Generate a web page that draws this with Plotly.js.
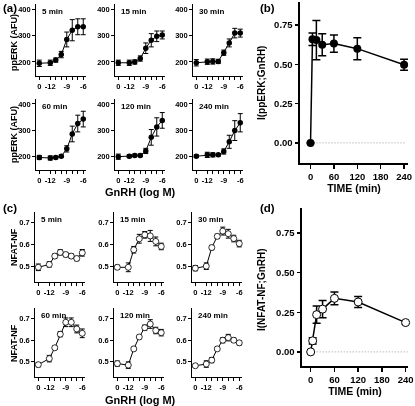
<!DOCTYPE html>
<html><head><meta charset="utf-8">
<script src="https://cdn.plot.ly/plotly-3.0.1.min.js"></script>
<style>html,body{margin:0;padding:0;background:#fff}#chart{width:415px;height:406px;filter:grayscale(100%)}#chart svg text{-webkit-font-smoothing:antialiased}</style>
</head><body><div id="chart"></div>
<script>
// ---- data ----
const doseX = [-14, -12, -11, -10, -9, -8, -7, -6];   // -14 position = control ("0")
const doseTickVals = [-14, -12, -11, -10, -9, -8, -7, -6];
const doseTickText = ['0', '-12', '', '', '-9', '', '', '-6'];
const timeLabels = ['5 min', '15 min', '30 min', '60 min', '120 min', '240 min'];

const erk5   = [195, 197, 207, 228, 285, 320, 333, 333];
const erk5e  = [12, 10, 8, 12, 28, 40, 30, 30];
const erk15  = [197, 197, 200, 213, 252, 282, 297, 302];
const erk15e = [10, 10, 8, 10, 20, 25, 20, 15];
const erk30  = [197, 201, 202, 202, 235, 272, 309, 309];
const erk30e = [12, 10, 10, 8, 10, 15, 18, 15];
const erk60  = [195, 193, 195, 200, 228, 285, 325, 342];
const erk60e = [8, 8, 5, 5, 12, 30, 32, 30];
const erk120  = [198, 200, 203, 203, 220, 272, 312, 337];
const erk120e = [10, 6, 5, 5, 10, 30, 35, 30];
const erk240  = [200, 205, 205, 205, 218, 255, 298, 328];
const erk240e = [5, 10, 8, 5, 10, 25, 38, 35];

const nf5   = [0.497, 0.51, 0.548, 0.565, 0.555, 0.548, 0.537, 0.563];
const nf5e  = [0.015, 0.012, 0.01, 0.012, 0.01, 0.01, 0.01, 0.015];
const nf15  = [0.497, 0.497, 0.577, 0.627, 0.645, 0.64, 0.615, 0.592];
const nf15e = [0.01, 0.02, 0.015, 0.02, 0.015, 0.025, 0.02, 0.015];
const nf30  = [0.493, 0.502, 0.587, 0.638, 0.662, 0.65, 0.628, 0.605];
const nf30e = [0.012, 0.015, 0.01, 0.01, 0.018, 0.02, 0.015, 0.015];
const nf60  = [0.487, 0.515, 0.565, 0.628, 0.683, 0.683, 0.652, 0.632];
const nf60e = [0.01, 0.015, 0.008, 0.012, 0.02, 0.02, 0.018, 0.02];
const nf120  = [0.492, 0.485, 0.56, 0.615, 0.658, 0.675, 0.645, 0.635];
const nf120e = [0.012, 0.015, 0.008, 0.008, 0.012, 0.02, 0.015, 0.015];
const nf240  = [0.482, 0.49, 0.508, 0.56, 0.6, 0.612, 0.6, 0.588];
const nf240e = [0.008, 0.015, 0.012, 0.008, 0.012, 0.015, 0.01, 0.01];

const timeMin = [0, 5, 15, 30, 60, 120, 240];
const infoERK  = [0, 0.66, 0.655, 0.625, 0.632, 0.6, 0.497];
const infoERKe = [0, 0.04, 0.125, 0.07, 0.055, 0.07, 0.035];
const infoNF   = [0, 0.07, 0.235, 0.27, 0.338, 0.315, 0.185];
const infoNFe  = [0, 0.02, 0.055, 0.055, 0.04, 0.035, 0.01];
const infoTicks = [0, 0.25, 0.5, 0.75];
const timeTicks = [0, 60, 120, 180, 240];

// ---- layout helpers ----
const W = 415, H = 406;
const FONT = 'Liberation Sans, Arial, sans-serif';
const BLACK = '#000000';
const dx = (a, b) => [a / W, b / W];
const dy = (top, bot) => [1 - bot / H, 1 - top / H];

const erkSets = [[erk5, erk5e], [erk15, erk15e], [erk30, erk30e], [erk60, erk60e], [erk120, erk120e], [erk240, erk240e]];
const nfSets = [[nf5, nf5e], [nf15, nf15e], [nf30, nf30e], [nf60, nf60e], [nf120, nf120e], [nf240, nf240e]];

const colA = [36, 115, 193];
const colC = [35, 114, 192];
const rowA = [[4, 76], [99, 170]];
const rowC = [[212, 282], [308, 377]];
const smallW = 50;

const data = [];
const layout = {
  width: W, height: H, margin: {l: 0, r: 0, t: 0, b: 0},
  paper_bgcolor: '#fff', plot_bgcolor: 'rgba(0,0,0,0)',
  showlegend: false, font: {family: FONT, color: BLACK},
  annotations: [], shapes: []
};

function smallAxes(n, x0, top, bot, yrange, ytv, yfmt) {
  layout['xaxis' + n] = {
    domain: dx(x0, x0 + smallW), range: [-14.6, -5.5], anchor: 'y' + n,
    color: BLACK, showline: true, linewidth: 1.3, linecolor: BLACK, mirror: false,
    showgrid: false, zeroline: false, ticks: 'outside', ticklen: 2.5, tickwidth: 1, tickcolor: BLACK,
    tickvals: doseTickVals, ticktext: doseTickText,
    tickfont: {family: FONT, size: 7.5, weight: 'bold', color: BLACK}, fixedrange: true
  };
  layout['yaxis' + n] = {
    domain: dy(top, bot), range: yrange, anchor: 'x' + n,
    color: BLACK, showline: true, linewidth: 1.3, linecolor: BLACK,
    showgrid: false, zeroline: false, ticks: 'outside', ticklen: 2.5, tickwidth: 1, tickcolor: BLACK,
    tickvals: ytv, tickformat: yfmt,
    tickfont: {family: FONT, size: 7.5, weight: 'bold', color: BLACK}, fixedrange: true
  };
}

let n = 1;
// panel (a)
for (let i = 0; i < 6; i++) {
  const r = Math.floor(i / 3), c = i % 3;
  smallAxes(n, colA[c], rowA[r][0], rowA[r][1], [147, 419], [200, 300, 400], 'd');
  data.push({
    x: doseX, y: erkSets[i][0], xaxis: 'x' + n, yaxis: 'y' + n,
    type: 'scatter', mode: 'lines+markers',
    line: {color: BLACK, width: 1},
    marker: {color: BLACK, size: 5.5, symbol: 'circle'},
    error_y: {type: 'data', array: erkSets[i][1], visible: true, color: BLACK, thickness: 1, width: 2.5},
    cliponaxis: false
  });
  layout.annotations.push({
    text: timeLabels[i], xref: 'paper', yref: 'paper',
    x: (colA[c] + 4) / W, y: 1 - (rowA[r][0] + 1) / H, xanchor: 'left', yanchor: 'top',
    showarrow: false, font: {family: FONT, size: 8, weight: 'bold', color: BLACK}
  });
  n++;
}
// panel (c)
for (let i = 0; i < 6; i++) {
  const r = Math.floor(i / 3), c = i % 3;
  smallAxes(n, colC[c], rowC[r][0], rowC[r][1], [0.43, 0.749], [0.5, 0.6, 0.7], '.1f');
  data.push({
    x: doseX, y: nfSets[i][0], xaxis: 'x' + n, yaxis: 'y' + n,
    type: 'scatter', mode: 'lines+markers',
    line: {color: BLACK, width: 1},
    marker: {color: '#fff', size: 6, symbol: 'circle', line: {color: BLACK, width: 0.8}},
    error_y: {type: 'data', array: nfSets[i][1], visible: true, color: BLACK, thickness: 1, width: 2.5},
    cliponaxis: false
  });
  layout.annotations.push({
    text: timeLabels[i], xref: 'paper', yref: 'paper',
    x: (colC[c] + 4) / W, y: 1 - (rowC[r][0] + 1) / H, xanchor: 'left', yanchor: 'top',
    showarrow: false, font: {family: FONT, size: 8, weight: 'bold', color: BLACK}
  });
  n++;
}

function bigAxes(k, x0, x1, top, bot, xr, yr) {
  layout['xaxis' + k] = {
    domain: dx(x0, x1), range: xr, anchor: 'y' + k,
    color: BLACK, showline: true, linewidth: 2, linecolor: BLACK,
    showgrid: false, zeroline: false, ticks: 'outside', ticklen: 3.5, tickwidth: 1.5, tickcolor: BLACK,
    tickvals: timeTicks, tickfont: {family: FONT, size: 9.5, weight: 'bold', color: BLACK},
    title: {text: 'TIME (min)', font: {family: FONT, size: 10.5, weight: 'bold', color: BLACK}, standoff: 2},
    fixedrange: true
  };
  layout['yaxis' + k] = {
    domain: dy(top, bot), range: yr, anchor: 'x' + k,
    color: BLACK, showline: true, linewidth: 2, linecolor: BLACK,
    showgrid: false, zeroline: false, ticks: 'outside', ticklen: 3.5, tickwidth: 1.5, tickcolor: BLACK,
    tickvals: infoTicks, tickformat: '.2f', tickfont: {family: FONT, size: 9.5, weight: 'bold', color: BLACK},
    fixedrange: true
  };
  layout.shapes.push({
    type: 'line', xref: 'x' + k, yref: 'y' + k, x0: 0, x1: 245, y0: 0, y1: 0,
    line: {color: '#999', width: 1, dash: '1px,2px'}, layer: 'below'
  });
}

// panel (b)
bigAxes(n, 300, 408, 2, 163, [-27, 250], [-0.128, 0.897]);
data.push({
  x: timeMin, y: infoERK, xaxis: 'x' + n, yaxis: 'y' + n,
  type: 'scatter', mode: 'lines+markers',
  line: {color: BLACK, width: 1.5},
  marker: {color: BLACK, size: 8, symbol: 'circle'},
  error_y: {type: 'data', array: infoERKe, visible: true, color: BLACK, thickness: 1.5, width: 4},
  cliponaxis: false
});
n++;
// panel (d)
bigAxes(n, 302, 408, 208, 366, [-22, 246], [-0.089, 0.908]);
data.push({
  x: timeMin, y: infoNF, xaxis: 'x' + n, yaxis: 'y' + n,
  type: 'scatter', mode: 'lines+markers',
  line: {color: BLACK, width: 1.5},
  marker: {color: '#fff', size: 8, symbol: 'circle', line: {color: BLACK, width: 1}},
  error_y: {type: 'data', array: infoNFe, visible: true, color: BLACK, thickness: 1.5, width: 4},
  cliponaxis: false
});

// text labels
function txt(t, x, y, size, opts) {
  layout.annotations.push(Object.assign({
    text: t, xref: 'paper', yref: 'paper', x: x / W, y: 1 - y / H,
    xanchor: 'center', yanchor: 'middle', showarrow: false,
    font: {family: FONT, size: size, weight: 'bold', color: BLACK}
  }, opts || {}));
}
txt('(a)', 1, 8, 11.5, {xanchor: 'left'});
txt('(b)', 258, 8, 11.5, {xanchor: 'left'});
txt('(c)', 1, 208, 11.5, {xanchor: 'left'});
txt('(d)', 258, 208, 11.5, {xanchor: 'left'});
txt('ppERK (AFU)', 14, 43, 9, {textangle: -90});
txt('ppERK (AFU)', 14, 135, 9, {textangle: -90});
txt('NFAT-NF', 14, 247, 9, {textangle: -90});
txt('NFAT-NF', 14, 343, 9, {textangle: -90});
txt('GnRH (log M)', 140, 192, 11);
txt('GnRH (log M)', 140, 400, 11);
txt('I(ppERK;GnRH)', 261, 83, 10, {textangle: -90});
txt('I(NFAT-NF;GnRH)', 261, 290, 10, {textangle: -90});

Plotly.newPlot('chart', data, layout, {staticPlot: true, displayModeBar: false});
</script></body></html>
